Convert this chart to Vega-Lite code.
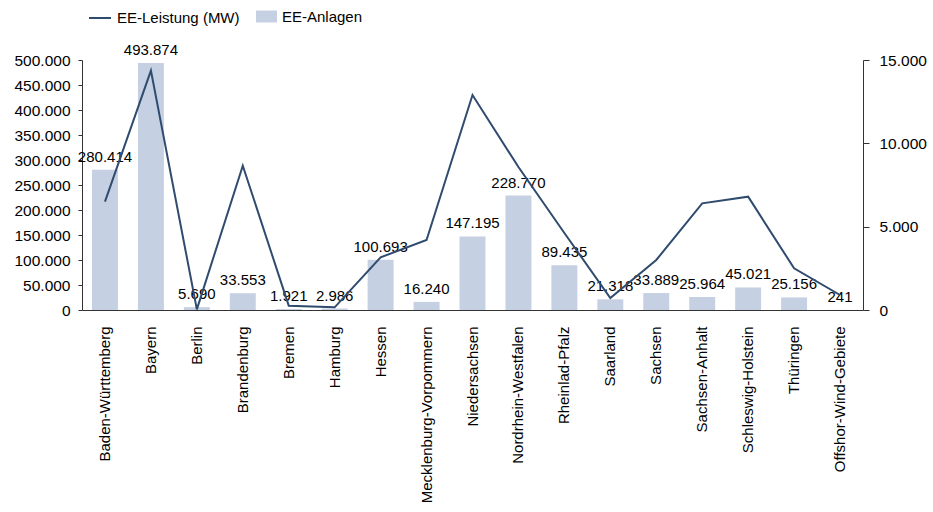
{
  "$schema": "https://vega.github.io/schema/vega-lite/v6.json",
  "width": 781,
  "height": 250,
  "autosize": {"type": "none"},
  "padding": {"left": 82, "top": 60, "right": 70, "bottom": 202},
  "background": "#ffffff",
  "data": {
    "values": [
      {"land": "Baden-Württemberg", "anlagen": 280414, "leistung": 6500},
      {"land": "Bayern", "anlagen": 493874, "leistung": 14360},
      {"land": "Berlin", "anlagen": 5690, "leistung": 40},
      {"land": "Brandenburg", "anlagen": 33553, "leistung": 8660},
      {"land": "Bremen", "anlagen": 1921, "leistung": 260},
      {"land": "Hamburg", "anlagen": 2986, "leistung": 160},
      {"land": "Hessen", "anlagen": 100693, "leistung": 3160},
      {"land": "Mecklenburg-Vorpommern", "anlagen": 16240, "leistung": 4200},
      {"land": "Niedersachsen", "anlagen": 147195, "leistung": 12900},
      {"land": "Nordrhein-Westfalen", "anlagen": 228770, "leistung": 8580},
      {"land": "Rheinlad-Pfalz", "anlagen": 89435, "leistung": 4620},
      {"land": "Saarland", "anlagen": 21318, "leistung": 720},
      {"land": "Sachsen", "anlagen": 33889, "leistung": 3000},
      {"land": "Sachsen-Anhalt", "anlagen": 25964, "leistung": 6400},
      {"land": "Schleswig-Holstein", "anlagen": 45021, "leistung": 6800},
      {"land": "Thüringen", "anlagen": 25156, "leistung": 2500},
      {"land": "Offshor-Wind-Gebiete", "anlagen": 241, "leistung": 900}
    ]
  },
  "encoding": {
    "x": {
      "field": "land",
      "type": "nominal",
      "sort": null,
      "scale": {"paddingInner": 0.435, "paddingOuter": 0.2175},
      "axis": {
        "title": null,
        "labelAngle": -90,
        "ticks": false,
        "labelPadding": 16,
        "domainColor": "#333333"
      }
    }
  },
  "layer": [
    {
      "encoding": {
        "y": {
          "field": "anlagen",
          "type": "quantitative",
          "scale": {"domain": [0, 500000], "nice": false},
          "axis": {
            "title": null,
            "orient": "left",
            "values": [0, 50000, 100000, 150000, 200000, 250000, 300000, 350000, 400000, 450000, 500000],
            "format": ",d",
            "tickSize": 4,
            "labelPadding": 8,
            "labelFontSize": 15.5
          }
        }
      },
      "layer": [
        {
          "mark": {"type": "bar"},
          "encoding": {
            "fill": {
              "datum": "EE-Anlagen",
              "scale": {"range": ["#c5d0e2"]},
              "legend": {
                "title": null,
                "orient": "none",
                "legendX": 174,
                "legendY": -54,
                "symbolType": "M-1,-0.57H1V0.57H-1Z",
                "symbolSize": 441,
                "symbolStrokeWidth": 0,
                "labelFontSize": 15,
                "labelOffset": 5,
                "labelColor": "#000000"
              }
            }
          }
        },
        {
          "mark": {"type": "text", "baseline": "alphabetic", "dy": -8, "fontSize": 15, "color": "#000000"},
          "encoding": {
            "text": {"field": "anlagen", "type": "quantitative", "format": ",d"}
          }
        }
      ]
    },
    {
      "mark": {"type": "line", "strokeWidth": 2},
      "encoding": {
        "y": {
          "field": "leistung",
          "type": "quantitative",
          "scale": {"domain": [0, 15000], "nice": false},
          "axis": {
            "title": null,
            "orient": "right",
            "values": [0, 5000, 10000, 15000],
            "format": ",d",
            "tickSize": 6,
            "labelPadding": 10,
            "labelFontSize": 15.5
          }
        },
        "stroke": {
          "datum": "EE-Leistung (MW)",
          "scale": {"range": ["#2f4b6e"]},
          "legend": {
            "title": null,
            "orient": "none",
            "legendX": 6,
            "legendY": -54,
            "symbolType": "stroke",
            "symbolSize": 484,
            "symbolStrokeWidth": 2,
            "labelFontSize": 15,
            "labelOffset": 5,
            "labelColor": "#000000"
          }
        }
      }
    }
  ],
  "resolve": {"scale": {"y": "independent"}},
  "config": {
    "font": "Liberation Sans",
    "view": {"stroke": null},
    "locale": {
      "number": {"decimal": ",", "thousands": ".", "grouping": [3], "currency": ["", " €"]}
    },
    "axis": {
      "grid": false,
      "labelFont": "Liberation Sans",
      "labelFontSize": 15,
      "labelColor": "#000000",
      "domainColor": "#333333",
      "tickColor": "#333333"
    },
    "legend": {"labelFont": "Liberation Sans"}
  }
}
